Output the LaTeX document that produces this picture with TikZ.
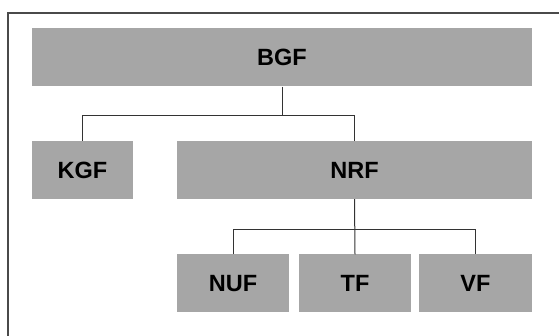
\documentclass[tikz,border=0pt]{standalone}
\usepackage{fontspec}
\setmainfont{Liberation Sans}
\definecolor{boxgray}{HTML}{A6A6A6}
\definecolor{framegray}{HTML}{4A4A4A}
\tikzset{
  unit/.style={fill=boxgray, inner sep=0pt, minimum height=58pt,
    font=\fontsize{23.5}{28}\selectfont\bfseries},
  link/.style={draw=black!80, line width=1pt}
}
\begin{document}
\begin{tikzpicture}[x=1pt,y=-1pt]
   \useasboundingbox (0,0) rectangle (559,336);
   \draw [framegray, line width=2pt] (8,345)--(8,13)--(570,13);
   \node [unit, minimum width=500pt] (BGF) at (282,57.5) {BGF};
   \node [unit, minimum width=101pt] (KGF) at (82.5,170) {KGF};
   \node [unit, minimum width=355pt] (NRF) at (354.5,170) {NRF};
   \node [unit, minimum width=112pt] (NUF) at (233,283.5) {NUF};
   \node [unit, minimum width=112pt] (TF) at (355,283.5) {TF};
   \node [unit, minimum width=113pt] (VF) at (475.5,283.5) {VF};
   \draw [link] (BGF.south)--++(0,29);
   \draw [link] (KGF.north)--++(0,-25) -| (NRF.north);
   \draw [link] (NRF.south)--(TF.north);
   \draw [link] (NUF.north)--++(0,-25) -| (VF.north);
\end{tikzpicture}
\end{document}
